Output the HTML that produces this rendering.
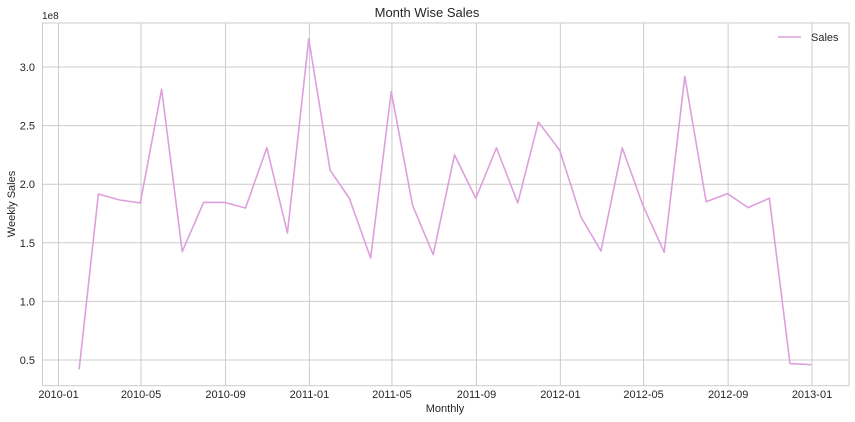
<!DOCTYPE html>
<html><head><meta charset="utf-8"><style>
body{margin:0;background:#fff;}
svg{display:block;font-family:"Liberation Sans",sans-serif;}
</style></head><body>
<svg id="chart" width="855" height="422">
<rect x="0" y="0" width="855" height="422" fill="#fff"/>
<g id="grid"></g>
<g id="series"></g>
<rect x="42.5" y="23" width="806.5" height="362.7" fill="none" stroke="#cccccc" stroke-width="1"/>
<text x="427" y="17" text-anchor="middle" font-size="13" fill="#262626">Month Wise Sales</text>
<text x="42" y="19" font-size="10" fill="#262626">1e8</text>
<text x="445" y="412" text-anchor="middle" font-size="11" fill="#262626">Monthly</text>
<text transform="translate(15,204) rotate(-90)" text-anchor="middle" font-size="11" fill="#262626">Weekly Sales</text>
<g>
<line x1="778" y1="37" x2="801" y2="37" stroke="#dda0dd" stroke-width="1.6"/>
<text x="811" y="41" font-size="11" fill="#262626">Sales</text>
</g>
</svg>
<script>
const months = ["2010-01","2010-02","2010-03","2010-04","2010-05","2010-06","2010-07","2010-08","2010-09","2010-10","2010-11","2010-12","2011-01","2011-02","2011-03","2011-04","2011-05","2011-06","2011-07","2011-08","2011-09","2011-10","2011-11","2011-12","2012-01","2012-02","2012-03","2012-04","2012-05","2012-06","2012-07","2012-08","2012-09","2012-10","2012-11","2012-12"];
const sales = [0.42,1.916,1.865,1.84,2.81,1.425,1.844,1.844,1.797,2.31,1.584,3.24,2.12,1.88,1.37,2.79,1.82,1.40,2.25,1.88,2.31,1.84,2.53,2.29,1.72,1.43,2.31,1.82,1.42,2.92,1.85,1.92,1.80,1.88,0.47,0.46];
const yTicks = [0.5,1.0,1.5,2.0,2.5,3.0];
const xTicks = ["2010-01","2010-05","2010-09","2011-01","2011-05","2011-09","2012-01","2012-05","2012-09","2013-01"];

const NS="http://www.w3.org/2000/svg";
const t0=Date.UTC(2010,0,1), t1=Date.UTC(2013,0,1);
function xDate(ms){return 58.5+(ms-t0)/(t1-t0)*(812-58.5);}
function monthEnd(s){const [y,m]=s.split("-").map(Number);return Date.UTC(y,m,0);}
function monthStart(s){const [y,m]=s.split("-").map(Number);return Date.UTC(y,m-1,1);}
function y(v){return 360-(v-0.5)*117.2;}
function mk(tag,attrs,parent){const e=document.createElementNS(NS,tag);for(const k in attrs)e.setAttribute(k,attrs[k]);parent.appendChild(e);return e;}

const grid=document.getElementById("grid");
const svg=document.getElementById("chart");
yTicks.forEach(v=>{
  const l=mk("line",{x1:42.5,x2:849,y1:y(v),y2:y(v),stroke:"#cccccc","stroke-width":1},grid);
  
  
  const t=mk("text",{x:35,y:y(v)+4,"text-anchor":"end","font-size":11,fill:"#262626"},svg);
  t.textContent=v.toFixed(1);
  
  
});
xTicks.forEach(s=>{
  const x=xDate(monthStart(s));
  const l=mk("line",{x1:x,x2:x,y1:23,y2:385.7,stroke:"#cccccc","stroke-width":1},grid);
  
  
  const t=mk("text",{x:x,y:398,"text-anchor":"middle","font-size":11,fill:"#262626"},svg);
  t.textContent=s;
  
  
});
const pts=months.map((m,i)=>xDate(monthEnd(m)).toFixed(2)+","+y(sales[i]).toFixed(2)).join(" ");
const line=mk("polyline",{points:pts,fill:"none",stroke:"#dda0dd","stroke-width":1.6,"stroke-linejoin":"round"},document.getElementById("series"));


</script>
</body></html>
